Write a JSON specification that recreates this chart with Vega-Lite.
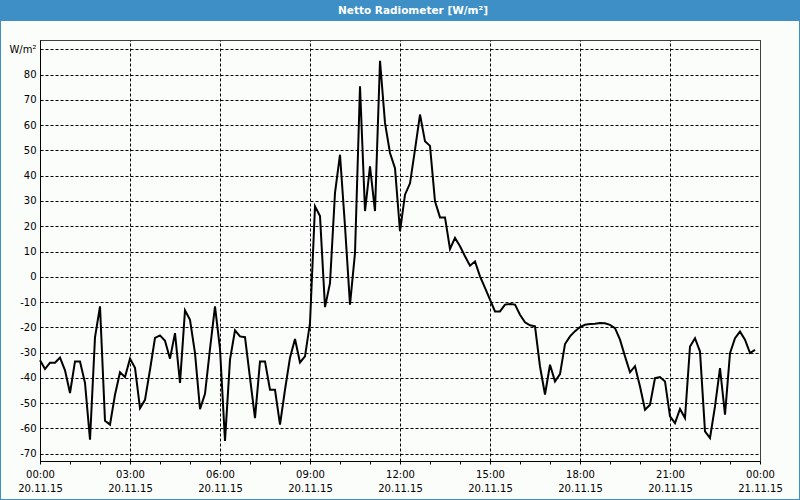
{
  "$schema": "https://vega.github.io/schema/vega-lite/v6.json",
  "background": "#3d8fc6",
  "autosize": "none",
  "padding": {"left": 1, "right": 1, "top": 21, "bottom": 1},
  "width": 798,
  "height": 478,
  "config": {"font": "DejaVu Sans"},
  "view": {"fill": "#fbfdfb", "stroke": null},
  "title": {
    "text": "Netto Radiometer [W/m²]",
    "color": "white",
    "fontSize": 10.5,
    "fontWeight": "bold",
    "font": "DejaVu Sans",
    "anchor": "middle",
    "frame": "group",
    "baseline": "middle",
    "offset": 0,
    "dx": 13
  },
  "data": {
    "values": [
      {"t": "2015-11-20T00:00", "v": -33}, {"t": "2015-11-20T00:10", "v": -36.5}, {"t": "2015-11-20T00:20", "v": -34}, {"t": "2015-11-20T00:30", "v": -34}, {"t": "2015-11-20T00:40", "v": -32}, {"t": "2015-11-20T00:50", "v": -37},
      {"t": "2015-11-20T01:00", "v": -46}, {"t": "2015-11-20T01:10", "v": -33.5}, {"t": "2015-11-20T01:20", "v": -33.5}, {"t": "2015-11-20T01:30", "v": -42}, {"t": "2015-11-20T01:40", "v": -64.5}, {"t": "2015-11-20T01:50", "v": -24},
      {"t": "2015-11-20T02:00", "v": -11.7}, {"t": "2015-11-20T02:10", "v": -57}, {"t": "2015-11-20T02:20", "v": -58.5}, {"t": "2015-11-20T02:30", "v": -46.7}, {"t": "2015-11-20T02:40", "v": -37.8}, {"t": "2015-11-20T02:50", "v": -39.7},
      {"t": "2015-11-20T03:00", "v": -32.4}, {"t": "2015-11-20T03:10", "v": -36}, {"t": "2015-11-20T03:20", "v": -52}, {"t": "2015-11-20T03:30", "v": -48.7}, {"t": "2015-11-20T03:40", "v": -36.8}, {"t": "2015-11-20T03:50", "v": -24.2},
      {"t": "2015-11-20T04:00", "v": -23.2}, {"t": "2015-11-20T04:10", "v": -25.3}, {"t": "2015-11-20T04:20", "v": -32.4}, {"t": "2015-11-20T04:30", "v": -22.3}, {"t": "2015-11-20T04:40", "v": -42}, {"t": "2015-11-20T04:50", "v": -13.3},
      {"t": "2015-11-20T05:00", "v": -17}, {"t": "2015-11-20T05:10", "v": -30.2}, {"t": "2015-11-20T05:20", "v": -52.4}, {"t": "2015-11-20T05:30", "v": -46.3}, {"t": "2015-11-20T05:40", "v": -28.5}, {"t": "2015-11-20T05:50", "v": -11.7},
      {"t": "2015-11-20T06:00", "v": -28.5}, {"t": "2015-11-20T06:10", "v": -65}, {"t": "2015-11-20T06:20", "v": -32.8}, {"t": "2015-11-20T06:30", "v": -21.2}, {"t": "2015-11-20T06:40", "v": -23.6}, {"t": "2015-11-20T06:50", "v": -23.9},
      {"t": "2015-11-20T07:00", "v": -40}, {"t": "2015-11-20T07:10", "v": -55.9}, {"t": "2015-11-20T07:20", "v": -33.5}, {"t": "2015-11-20T07:30", "v": -33.5}, {"t": "2015-11-20T07:40", "v": -44.7}, {"t": "2015-11-20T07:50", "v": -44.7},
      {"t": "2015-11-20T08:00", "v": -58.5}, {"t": "2015-11-20T08:10", "v": -44.7}, {"t": "2015-11-20T08:20", "v": -32}, {"t": "2015-11-20T08:30", "v": -24.6}, {"t": "2015-11-20T08:40", "v": -33.9}, {"t": "2015-11-20T08:50", "v": -31.5},
      {"t": "2015-11-20T09:00", "v": -18.3}, {"t": "2015-11-20T09:10", "v": 27.9}, {"t": "2015-11-20T09:20", "v": 24}, {"t": "2015-11-20T09:30", "v": -12}, {"t": "2015-11-20T09:40", "v": -2.5}, {"t": "2015-11-20T09:50", "v": 33.2},
      {"t": "2015-11-20T10:00", "v": 48.3}, {"t": "2015-11-20T10:10", "v": 20}, {"t": "2015-11-20T10:20", "v": -11}, {"t": "2015-11-20T10:30", "v": 9.4}, {"t": "2015-11-20T10:40", "v": 75.4}, {"t": "2015-11-20T10:50", "v": 26},
      {"t": "2015-11-20T11:00", "v": 43.7}, {"t": "2015-11-20T11:10", "v": 26}, {"t": "2015-11-20T11:20", "v": 85.5}, {"t": "2015-11-20T11:30", "v": 60.9}, {"t": "2015-11-20T11:40", "v": 49}, {"t": "2015-11-20T11:50", "v": 43},
      {"t": "2015-11-20T12:00", "v": 18}, {"t": "2015-11-20T12:10", "v": 32.5}, {"t": "2015-11-20T12:20", "v": 37}, {"t": "2015-11-20T12:30", "v": 50.3}, {"t": "2015-11-20T12:40", "v": 64.2}, {"t": "2015-11-20T12:50", "v": 53.6},
      {"t": "2015-11-20T13:00", "v": 51.8}, {"t": "2015-11-20T13:10", "v": 29.9}, {"t": "2015-11-20T13:20", "v": 23.5}, {"t": "2015-11-20T13:30", "v": 23.5}, {"t": "2015-11-20T13:40", "v": 11}, {"t": "2015-11-20T13:50", "v": 15.4},
      {"t": "2015-11-20T14:00", "v": 12.1}, {"t": "2015-11-20T14:10", "v": 8.1}, {"t": "2015-11-20T14:20", "v": 4.4}, {"t": "2015-11-20T14:30", "v": 6.1}, {"t": "2015-11-20T14:40", "v": 0.2}, {"t": "2015-11-20T14:50", "v": -4.4},
      {"t": "2015-11-20T15:00", "v": -9}, {"t": "2015-11-20T15:10", "v": -13.7}, {"t": "2015-11-20T15:20", "v": -13.7}, {"t": "2015-11-20T15:30", "v": -11}, {"t": "2015-11-20T15:40", "v": -10.8}, {"t": "2015-11-20T15:50", "v": -11},
      {"t": "2015-11-20T16:00", "v": -15}, {"t": "2015-11-20T16:10", "v": -18}, {"t": "2015-11-20T16:20", "v": -19.2}, {"t": "2015-11-20T16:30", "v": -19.6}, {"t": "2015-11-20T16:40", "v": -35.5}, {"t": "2015-11-20T16:50", "v": -46.6},
      {"t": "2015-11-20T17:00", "v": -34.8}, {"t": "2015-11-20T17:10", "v": -41.4}, {"t": "2015-11-20T17:20", "v": -38.5}, {"t": "2015-11-20T17:30", "v": -26.6}, {"t": "2015-11-20T17:40", "v": -23.6}, {"t": "2015-11-20T17:50", "v": -21.5},
      {"t": "2015-11-20T18:00", "v": -19.9}, {"t": "2015-11-20T18:10", "v": -19}, {"t": "2015-11-20T18:20", "v": -18.7}, {"t": "2015-11-20T18:30", "v": -18.6}, {"t": "2015-11-20T18:40", "v": -18.3}, {"t": "2015-11-20T18:50", "v": -18.4},
      {"t": "2015-11-20T19:00", "v": -19}, {"t": "2015-11-20T19:10", "v": -20.3}, {"t": "2015-11-20T19:20", "v": -24.9}, {"t": "2015-11-20T19:30", "v": -31.5}, {"t": "2015-11-20T19:40", "v": -37.8}, {"t": "2015-11-20T19:50", "v": -35.4},
      {"t": "2015-11-20T20:00", "v": -43.4}, {"t": "2015-11-20T20:10", "v": -52.6}, {"t": "2015-11-20T20:20", "v": -50.6}, {"t": "2015-11-20T20:30", "v": -40.1}, {"t": "2015-11-20T20:40", "v": -39.7}, {"t": "2015-11-20T20:50", "v": -41.4},
      {"t": "2015-11-20T21:00", "v": -55.2}, {"t": "2015-11-20T21:10", "v": -57.9}, {"t": "2015-11-20T21:20", "v": -52.3}, {"t": "2015-11-20T21:30", "v": -55.9}, {"t": "2015-11-20T21:40", "v": -27.6}, {"t": "2015-11-20T21:50", "v": -24.3},
      {"t": "2015-11-20T22:00", "v": -29.6}, {"t": "2015-11-20T22:10", "v": -61.2}, {"t": "2015-11-20T22:20", "v": -63.8}, {"t": "2015-11-20T22:30", "v": -51.3}, {"t": "2015-11-20T22:40", "v": -36.1}, {"t": "2015-11-20T22:50", "v": -54.6},
      {"t": "2015-11-20T23:00", "v": -30.2}, {"t": "2015-11-20T23:10", "v": -24.3}, {"t": "2015-11-20T23:20", "v": -21.7}, {"t": "2015-11-20T23:30", "v": -24.9}, {"t": "2015-11-20T23:40", "v": -30.2}, {"t": "2015-11-20T23:50", "v": -28.9}
    ]
  },
  "resolve": {"axis": {"x": "independent", "y": "independent"}},
  "layer": [
    {
      "mark": {"type": "line", "opacity": 0, "clip": true},
      "encoding": {
        "x": {
          "field": "t",
          "type": "temporal",
          "scale": {
            "domain": [{"year": 2015, "month": 11, "date": 20, "hours": 0}, {"year": 2015, "month": 11, "date": 21, "hours": 0}],
            "range": [39, 759],
            "nice": false
          },
          "axis": {
            "orient": "top",
            "title": null,
            "domain": false,
            "ticks": false,
            "labels": false,
            "values": [
              {"year": 2015, "month": 11, "date": 20, "hours": 0}, {"year": 2015, "month": 11, "date": 20, "hours": 3},
              {"year": 2015, "month": 11, "date": 20, "hours": 6}, {"year": 2015, "month": 11, "date": 20, "hours": 9},
              {"year": 2015, "month": 11, "date": 20, "hours": 12}, {"year": 2015, "month": 11, "date": 20, "hours": 15},
              {"year": 2015, "month": 11, "date": 20, "hours": 18}, {"year": 2015, "month": 11, "date": 20, "hours": 21},
              {"year": 2015, "month": 11, "date": 21, "hours": 0}
            ],
            "grid": true,
            "gridColor": "black",
            "gridDash": {"condition": {"test": "date(datum.value) == 21", "value": [1, 0]}, "value": [3, 2]}
          }
        },
        "y": {
          "field": "v",
          "type": "quantitative",
          "scale": {"domain": [-72.9, 93.7], "range": [440, 19], "nice": false, "zero": false},
          "axis": {
            "orient": "left",
            "title": null,
            "offset": -39,
            "values": [-70, -60, -50, -40, -30, -20, -10, 0, 10, 20, 30, 40, 50, 60, 70, 80, 90, 93.7],
            "labelExpr": "datum.value == 93.7 ? '' : (datum.value == 90 ? 'W/m²' : '' + datum.value)",
            "labelOverlap": false,
            "labelFlush": false,
            "labelPadding": 4,
            "labelFontSize": 10,
            "labelFont": "DejaVu Sans",
            "labelColor": "black",
            "ticks": false,
            "domain": true,
            "domainColor": "black",
            "grid": true,
            "gridColor": "black",
            "gridDash": {"condition": {"test": "datum.value == 93.7", "value": [1, 0]}, "value": [3, 2]}
          }
        }
      }
    },
    {
      "mark": {"type": "line", "color": "black", "strokeWidth": 2, "clip": true},
      "encoding": {
        "x": {
          "field": "t",
          "type": "temporal",
          "axis": {
            "orient": "bottom",
            "title": null,
            "offset": -38,
            "grid": false,
            "values": [
              {"year": 2015, "month": 11, "date": 20, "hours": 0}, {"year": 2015, "month": 11, "date": 20, "hours": 1}, {"year": 2015, "month": 11, "date": 20, "hours": 2},
              {"year": 2015, "month": 11, "date": 20, "hours": 3}, {"year": 2015, "month": 11, "date": 20, "hours": 4}, {"year": 2015, "month": 11, "date": 20, "hours": 5},
              {"year": 2015, "month": 11, "date": 20, "hours": 6}, {"year": 2015, "month": 11, "date": 20, "hours": 7}, {"year": 2015, "month": 11, "date": 20, "hours": 8},
              {"year": 2015, "month": 11, "date": 20, "hours": 9}, {"year": 2015, "month": 11, "date": 20, "hours": 10}, {"year": 2015, "month": 11, "date": 20, "hours": 11},
              {"year": 2015, "month": 11, "date": 20, "hours": 12}, {"year": 2015, "month": 11, "date": 20, "hours": 13}, {"year": 2015, "month": 11, "date": 20, "hours": 14},
              {"year": 2015, "month": 11, "date": 20, "hours": 15}, {"year": 2015, "month": 11, "date": 20, "hours": 16}, {"year": 2015, "month": 11, "date": 20, "hours": 17},
              {"year": 2015, "month": 11, "date": 20, "hours": 18}, {"year": 2015, "month": 11, "date": 20, "hours": 19}, {"year": 2015, "month": 11, "date": 20, "hours": 20},
              {"year": 2015, "month": 11, "date": 20, "hours": 21}, {"year": 2015, "month": 11, "date": 20, "hours": 22}, {"year": 2015, "month": 11, "date": 20, "hours": 23},
              {"year": 2015, "month": 11, "date": 21, "hours": 0}
            ],
            "labelExpr": "hours(datum.value) % 3 == 0 ? [timeFormat(datum.value, '%H:%M'), timeFormat(datum.value, '%d.%m.%y')] : ''",
            "labelOverlap": false,
            "labelFlush": false,
            "labelPadding": 5,
            "labelLineHeight": 14.5,
            "labelBaseline": "top",
            "labelFontSize": 10,
            "labelFont": "DejaVu Sans",
            "labelColor": "black",
            "ticks": true,
            "tickSize": 3,
            "tickColor": "black",
            "domainColor": "black"
          }
        },
        "y": {
          "field": "v",
          "type": "quantitative",
          "axis": {
            "orient": "left",
            "title": null,
            "offset": -39,
            "labels": false,
            "ticks": false,
            "domain": false,
            "grid": false
          }
        }
      }
    }
  ]
}
